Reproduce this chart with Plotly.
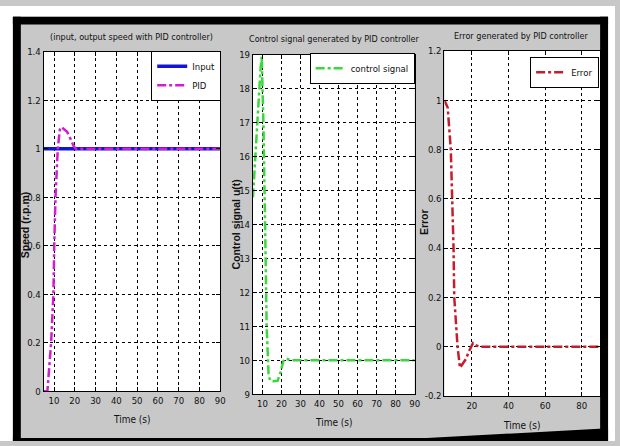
import plotly.graph_objects as go

# ---------------- data ----------------
t_input = [5, 90]
input_speed = [1.0, 1.0]

t_pid = [5, 6.8, 8.6, 9.7, 10.1, 10.7, 11.8, 12.8, 13.5, 15.0, 16.3, 18.0, 19.5, 20.5, 30, 40, 50, 60, 70, 80, 90]
pid_speed = [0.0, 0.0, 0.2, 0.4, 0.6, 0.8, 1.0, 1.08, 1.09, 1.08, 1.07, 1.04, 1.01, 1.0, 1.0, 1.0, 1.0, 1.0, 1.0, 1.0, 1.0]

t_ctrl = [5, 6, 7, 8, 9, 9.6, 10.5, 11.4, 12.2, 13.2, 14.0, 16.0, 18.0, 19.5, 21.0, 22.5, 25, 30, 40, 50, 60, 70, 80, 90]
ctrl_signal = [14.8, 15.8, 16.8, 17.8, 18.6, 18.95, 17.0, 14.0, 11.0, 9.6, 9.4, 9.38, 9.4, 9.65, 9.98, 10.05, 10.0, 10.0, 10.0, 10.0, 10.0, 10.0, 10.0, 10.0]

t_err = [5, 6.8, 8.5, 9.4, 10.0, 10.4, 11.3, 12.2, 13.5, 15.0, 16.7, 18.3, 19.5, 20.6, 22.5, 25, 30, 40, 50, 60, 70, 80, 90]
error_sig = [1.0, 0.97, 0.8, 0.6, 0.4, 0.2, 0.08, 0.0, -0.085, -0.07, -0.05, -0.02, 0.0, 0.015, 0.005, 0.0, 0.0, 0.0, 0.0, 0.0, 0.0, 0.0, 0.0]

x_ticks_1 = [10, 20, 30, 40, 50, 60, 70, 80, 90]
y_ticks_1 = [0, 0.2, 0.4, 0.6, 0.8, 1.0, 1.2, 1.4]
y_ticktext_1 = ["0", "0.2", "0.4", "0.6", "0.8", "1", "1.2", "1.4"]
y_ticks_2 = [9, 10, 11, 12, 13, 14, 15, 16, 17, 18, 19]
x_ticks_3 = [20, 40, 60, 80]
y_ticks_3 = [-0.2, 0, 0.2, 0.4, 0.6, 0.8, 1.0, 1.2]
y_ticktext_3 = ["-0.2", "0", "0.2", "0.4", "0.6", "0.8", "1", "1.2"]

titles = ["(input, output speed with PID controller)",
          "Control signal generated by PID controller",
          "Error generated by PID controller"]
y_titles = ["Speed (r.p.m)", "Control signal u(t)", "Error"]
x_title = "Time (s)"

# ---------------- figure ----------------
W, H = 620, 446
FONT = "Liberation Sans Narrow, DejaVu Sans Condensed, Liberation Sans, sans-serif"
GREY = "#c8c8c8"


def px(x):
    return x / W


def py(y):
    return 1 - y / H


fig = go.Figure()

fig.add_trace(go.Scatter(x=t_input, y=input_speed, mode="lines", name="Input",
                         line=dict(color="#1414d8", width=3.5),
                         xaxis="x", yaxis="y", legend="legend"))
fig.add_trace(go.Scatter(x=t_pid, y=pid_speed, mode="lines", name="PID",
                         line=dict(color="#d21ed2", width=2.5, dash="dashdot"),
                         xaxis="x", yaxis="y", legend="legend"))
fig.add_trace(go.Scatter(x=t_ctrl, y=ctrl_signal, mode="lines", name="control signal",
                         line=dict(color="#3ad83a", width=2.5, dash="dashdot"),
                         xaxis="x2", yaxis="y2", legend="legend2"))
fig.add_trace(go.Scatter(x=t_err, y=error_sig, mode="lines", name="Error",
                         line=dict(color="#c41e2a", width=2.5, dash="dashdot"),
                         xaxis="x3", yaxis="y3", legend="legend3"))

axis_common = dict(showline=True, linecolor="black", linewidth=1, mirror="ticks",
                   ticks="inside", ticklen=4, tickcolor="black",
                   showgrid=True, gridcolor="black", griddash="dot", gridwidth=1,
                   zeroline=False, tickfont=dict(family=FONT, size=9.5, color="#111"),
                   fixedrange=True)

leg_common = dict(xanchor="right", yanchor="top", bgcolor="white",
                  bordercolor="black", borderwidth=1,
                  font=dict(family=FONT, size=9.5, color="#111"), itemwidth=30)

fig.update_layout(
    width=W, height=H,
    margin=dict(l=0, r=0, t=0, b=0),
    paper_bgcolor=GREY,
    plot_bgcolor="white",
    font=dict(family=FONT, size=10, color="#111"),
    xaxis=dict(domain=[px(44), px(222)], anchor="y", range=[5, 90],
               tickvals=x_ticks_1, **axis_common),
    yaxis=dict(domain=[py(395), py(47)], anchor="x", range=[0, 1.4],
               tickvals=y_ticks_1, ticktext=y_ticktext_1, **axis_common),
    xaxis2=dict(domain=[px(255), px(418)], anchor="y2", range=[5, 90],
                tickvals=x_ticks_1, **axis_common),
    yaxis2=dict(domain=[py(398), py(50)], anchor="x2", range=[9, 19],
                tickvals=y_ticks_2, **axis_common),
    xaxis3=dict(domain=[px(448), px(605)], anchor="y3", range=[5, 90],
                tickvals=x_ticks_3, **axis_common),
    yaxis3=dict(domain=[py(400), py(46)], anchor="x3", range=[-0.2, 1.2],
                tickvals=y_ticks_3, ticktext=y_ticktext_3, **axis_common),
    legend=dict(x=px(223), y=py(46), **leg_common),
    legend2=dict(x=px(418), y=py(48), **leg_common),
    legend3=dict(x=px(604), y=py(52), **leg_common),
    showlegend=True,
)


# white surroundings and black frame of the figure window
def rect(x0, y0, x1, y1, color):
    fig.add_shape(type="rect", xref="paper", yref="paper",
                  x0=px(x0), x1=px(x1), y0=py(y1), y1=py(y0),
                  fillcolor=color, line=dict(width=0), layer="below")


rect(0, 0, 620, 11, "white")
rect(0, 0, 13, 446, "white")
rect(613, 0, 620, 446, "white")
rect(13, 11, 613, 19, "black")
rect(13, 11, 21, 446, "black")
rect(605, 11, 613, 446, "black")
fig.add_shape(type="path", xref="paper", yref="paper",
              path="M {a},{b} L {c},{b} L {d},{e} L {f},{e} L {f},{g} L {a},{g} Z".format(
                  a=px(13), b=py(443), c=px(430), d=px(613), e=py(433), f=px(613), g=py(446)),
              fillcolor="black", line=dict(width=0), layer="below")

title_pos = [(133, 32), (337, 34), (526, 31)]
xlab_pos = [(133, 424), (337, 427), (526, 430)]
ylab_pos = [(26, 224), (238, 224), (427, 222)]

for i in range(3):
    fig.add_annotation(text=titles[i], x=px(title_pos[i][0]), y=py(title_pos[i][1]),
                       xref="paper", yref="paper", showarrow=False,
                       xanchor="center", yanchor="middle",
                       font=dict(family=FONT, size=9, color="#111"))
    fig.add_annotation(text=x_title, x=px(xlab_pos[i][0]), y=py(xlab_pos[i][1]),
                       xref="paper", yref="paper", showarrow=False,
                       xanchor="center", yanchor="middle",
                       font=dict(family=FONT, size=10, color="#111"))
    fig.add_annotation(text="<b>" + y_titles[i] + "</b>", x=px(ylab_pos[i][0]), y=py(ylab_pos[i][1]),
                       xref="paper", yref="paper", showarrow=False, textangle=-90,
                       xanchor="center", yanchor="middle",
                       font=dict(family="Liberation Sans, Arial, sans-serif", size=10.5, color="#111"))

fig.write_html("out.html", config={"displayModeBar": False},
               post_script="document.body.style.margin='0';")
